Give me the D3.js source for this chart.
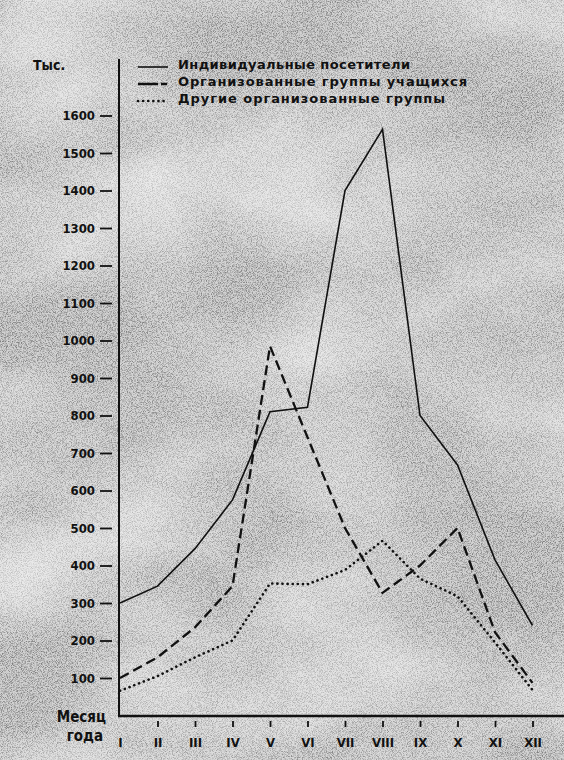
<!DOCTYPE html>
<html>
<head>
<meta charset="utf-8">
<script src="https://cdn.jsdelivr.net/npm/d3@7"></script>
<style>
  html, body { margin: 0; padding: 0; background: #fff; }
  svg { display: block; }
  .lbl { font-family: "Liberation Sans Narrow", "DejaVu Sans Condensed", "Liberation Sans", sans-serif; font-weight: bold; fill: #111; }
  .leg { font-family: "DejaVu Sans", sans-serif; font-weight: bold; fill: #111; font-size: 13px; }
</style>
</head>
<body>
<svg id="chart" width="564" height="760"></svg>
<script>
// months of the year (roman numerals), thousands of visitors
var months = ["I", "II", "III", "IV", "V", "VI", "VII", "VIII", "IX", "X", "XI", "XII"];
var individual = [300, 345, 445, 575, 810, 822, 1400, 1563, 800, 668, 415, 240];
var students = [100, 155, 235, 345, 985, 742, 500, 327, 400, 500, 222, 87];
var otherGroups = [66, 105, 155, 200, 352, 350, 388, 466, 365, 318, 195, 68];
var yTicks = [100, 200, 300, 400, 500, 600, 700, 800, 900, 1000, 1100, 1200, 1300, 1400, 1500, 1600];
var legendNames = ["Индивидуальные посетители", "Организованные группы учащихся", "Другие организованные группы"];

var svg = d3.select("#chart");

// --- paper background: grey halftone with light clouds
var defs = svg.append("defs");
var clouds = defs.append("filter").attr("id", "clouds")
    .attr("x", 0).attr("y", 0).attr("width", 1).attr("height", 1);
clouds.append("feTurbulence")
    .attr("type", "fractalNoise").attr("baseFrequency", "0.005 0.008")
    .attr("numOctaves", 3).attr("seed", 11).attr("result", "n");
clouds.append("feColorMatrix").attr("in", "n").attr("type", "matrix")
    .attr("values", "0 0 0 0 1  0 0 0 0 1  0 0 0 0 1  1.3 0 0 0 -0.4");

var grain = defs.append("filter").attr("id", "grain")
    .attr("x", 0).attr("y", 0).attr("width", 1).attr("height", 1);
grain.append("feTurbulence")
    .attr("type", "fractalNoise").attr("baseFrequency", "1.2")
    .attr("numOctaves", 1).attr("seed", 2).attr("result", "g");
grain.append("feColorMatrix").attr("in", "g").attr("type", "matrix")
    .attr("values", "0 0 0 0 0  0 0 0 0 0  0 0 0 0 0  -3 0 0 0 1.75");

svg.append("rect").attr("width", 564).attr("height", 760).attr("fill", "#d2d2d2");
svg.append("rect").attr("width", 564).attr("height", 760).attr("filter", "url(#grain)").attr("opacity", 0.4);
svg.append("rect").attr("width", 564).attr("height", 760).attr("filter", "url(#clouds)").attr("opacity", 0.8);

// --- scales
var x = d3.scalePoint().domain(months).range([120, 532.5]);
var y = d3.scaleLinear().domain([0, 1600]).range([715.5, 115.5]);

// --- y axis
var yAxis = d3.axisLeft(y).tickValues(yTicks).tickFormat(d3.format("d")).tickSize(0).tickPadding(24);
var gy = svg.append("g").attr("transform", "translate(119,0)").call(yAxis);
gy.select(".domain").remove();
gy.selectAll(".tick text").attr("class", "lbl").style("font-size", "13px").attr("fill", "#111");
gy.selectAll(".tick line")
    .attr("x1", -19).attr("x2", -7)
    .attr("stroke", "#111").attr("stroke-width", 1.8);

svg.append("line")
    .attr("x1", 119).attr("x2", 119).attr("y1", 59).attr("y2", 717)
    .attr("stroke", "#111").attr("stroke-width", 2);

// --- x axis
var xAxis = d3.axisBottom(x).tickSize(0).tickPadding(22);
var gx = svg.append("g").attr("transform", "translate(0,716)").call(xAxis);
gx.select(".domain").remove();
gx.selectAll(".tick text").attr("class", "lbl").style("font-size", "13px").attr("fill", "#111");
gx.selectAll(".tick").filter(function (d, i) { return i > 0; })
    .append("line")
    .attr("y1", 5).attr("y2", 11)
    .attr("stroke", "#111").attr("stroke-width", 1.8);

svg.append("line")
    .attr("x1", 118).attr("x2", 564).attr("y1", 716).attr("y2", 716)
    .attr("stroke", "#111").attr("stroke-width", 2.4);

// --- axis titles
svg.append("text").attr("class", "lbl").attr("x", 33).attr("y", 70)
    .style("font-size", "14px").text("Тыс.");
svg.append("text").attr("class", "lbl").attr("x", 106).attr("y", 722)
    .attr("text-anchor", "end").style("font-size", "15px").text("Месяц");
svg.append("text").attr("class", "lbl").attr("x", 103).attr("y", 741)
    .attr("text-anchor", "end").style("font-size", "15px").text("года");

// --- series
var styles = [
    { data: individual, width: 1.6, dash: null, cap: "butt" },
    { data: students, width: 2.3, dash: "10 5", cap: "butt" },
    { data: otherGroups, width: 2.6, dash: "0.1 5", cap: "round" }
];

var line = d3.line()
    .x(function (d, i) { return x(months[i]); })
    .y(function (d) { return y(d); });

styles.forEach(function (s) {
    svg.append("path")
        .datum(s.data)
        .attr("d", line)
        .attr("fill", "none")
        .attr("stroke", "#111")
        .attr("stroke-width", s.width)
        .attr("stroke-dasharray", s.dash)
        .attr("stroke-linecap", s.cap)
        .attr("stroke-linejoin", "miter");
});

// --- legend
var legLengths = [232, 289, 267];
var leg = svg.append("g");
legendNames.forEach(function (name, i) {
    var ly = 64 + i * 17;
    var s = styles[i];
    leg.append("line")
        .attr("x1", 138).attr("x2", 168).attr("y1", ly + 3).attr("y2", ly + 3)
        .attr("stroke", "#111").attr("stroke-width", s.width)
        .attr("stroke-dasharray", i === 1 ? "20 3 6 3" : s.dash)
        .attr("stroke-linecap", s.cap);
    leg.append("text").attr("class", "leg")
        .attr("x", 178).attr("y", ly + 5)
        .attr("textLength", legLengths[i]).attr("lengthAdjust", "spacing")
        .text(name);
});
</script>
</body>
</html>
